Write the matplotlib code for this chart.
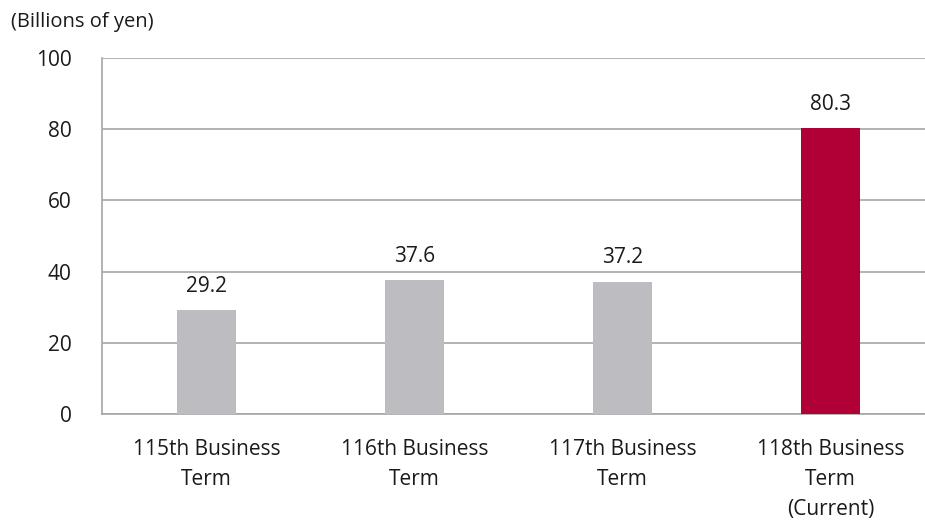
import matplotlib
matplotlib.use('Agg')
import matplotlib.pyplot as plt
import numpy as np

plt.rcParams['font.family'] = ['Open Sans', 'DejaVu Sans']

# Ordinary income by business term
terms = ['115th Business\nTerm', '116th Business\nTerm', '117th Business\nTerm', '118th Business\nTerm\n(Current)']
values = [29.2, 37.6, 37.2, 80.3]
colors = ['#BDBDC1', '#BDBDC1', '#BDBDC1', '#B10036']

fig = plt.figure(figsize=(9.25, 5.2), dpi=100)
ax = fig.add_axes([102/925, 1 - 414/520, 823/925, 356/520])

x = np.arange(len(terms))
ax.bar(x, values, width=0.284, color=colors, zorder=3)
for xi, v in zip(x, values):
    ax.text(xi, v + 3.8, f'{v:.1f}', ha='center', va='bottom', fontsize=15, color='#1a1a1a')

ax.set_xlim(-0.502, 3.454)
ax.set_ylim(0, 100)
ax.set_yticks(range(0, 101, 20))
ax.yaxis.grid(True, color='#A6A6A6', linewidth=1.2, zorder=0)
ax.set_axisbelow(True)

ax.set_xticks(x)
ax.set_xticklabels(terms, fontsize=15, linespacing=1.55, color='#1a1a1a')
ax.tick_params(axis='x', length=0, pad=18)
ax.tick_params(axis='y', length=0, pad=22, labelsize=15, labelcolor='#1a1a1a')

for side in ['top', 'right']:
    ax.spines[side].set_visible(False)
ax.spines['left'].set_color('#A6A6A6')
ax.spines['bottom'].set_color('#A6A6A6')
ax.spines['left'].set_linewidth(1.2)
ax.spines['bottom'].set_linewidth(1.2)

fig.text(11/925, 1 - 22/520, '(Billions of yen)', fontsize=14.5, va='center', ha='left', color='#1a1a1a')

fig.savefig('out.png', dpi=100)
